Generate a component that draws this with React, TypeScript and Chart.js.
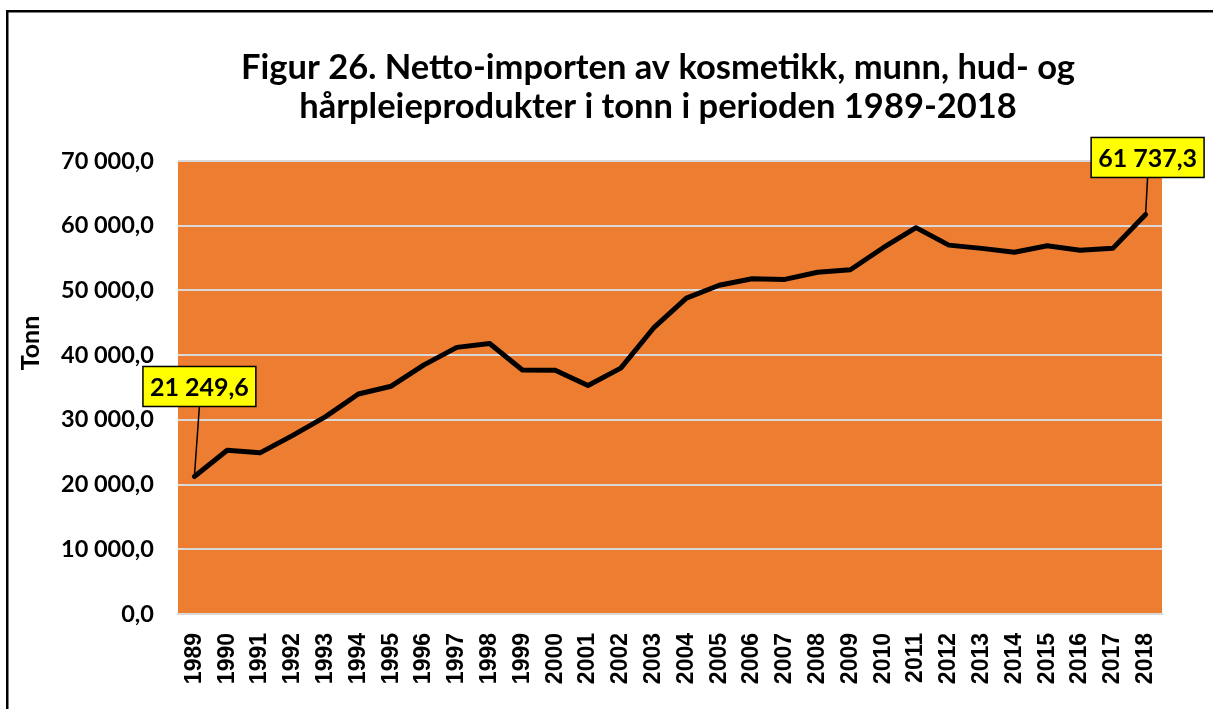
import React, { useEffect, useRef } from "react";
import { Chart, registerables } from "chart.js";

Chart.register(...registerables);

const years: string[] = [
  "1989", "1990", "1991", "1992", "1993", "1994", "1995", "1996", "1997", "1998",
  "1999", "2000", "2001", "2002", "2003", "2004", "2005", "2006", "2007", "2008",
  "2009", "2010", "2011", "2012", "2013", "2014", "2015", "2016", "2017", "2018",
];

const tonnes: number[] = [
  21249.6, 25300, 24900, 27600, 30500, 34000, 35200, 38500, 41200, 41800,
  37700, 37650, 35300, 38000, 44200, 48800, 50800, 51800, 51700, 52800,
  53200, 56600, 59700, 57000, 56500, 55900, 56900, 56200, 56500, 61737.3,
];

const titleLines: string[] = [
  "Figur 26. Netto-importen av kosmetikk, munn, hud- og",
  "hårpleieprodukter i tonn i perioden 1989-2018",
];
const yAxisTitle = "Tonn";
const labelledIndices: number[] = [0, 29];

function fmtNo(v: number): string {
  const fixed = Math.abs(v).toFixed(1);
  const [intPart, dec] = fixed.split(".");
  const grouped = intPart.replace(/\B(?=(\d{3})+(?!\d))/g, " ");
  return (v < 0 ? "-" : "") + grouped + "," + dec;
}

const FONT = "Lato, 'Open Sans', sans-serif";

export default function App() {
  const ref = useRef<HTMLCanvasElement | null>(null);

  useEffect(() => {
    if (!ref.current) return;

    const decor = {
      id: "decor",
      beforeDraw(chart: any) {
        const { ctx, chartArea } = chart;
        ctx.save();
        ctx.fillStyle = "#ffffff";
        ctx.fillRect(0, 0, chart.width, chart.height);
        ctx.fillStyle = "#ED7D31";
        ctx.fillRect(chartArea.left, chartArea.top, chartArea.right - chartArea.left, chartArea.bottom - chartArea.top);
        ctx.restore();
      },
      afterDraw(chart: any) {
        const { ctx } = chart;
        ctx.save();
        ctx.strokeStyle = "#000";
        ctx.lineWidth = 2.5;
        ctx.strokeRect(7.25, 11.25, chart.width + 20, chart.height + 20);
        ctx.fillStyle = "#000";
        ctx.font = `bold 34.5px ${FONT}`;
        ctx.textAlign = "center";
        ctx.textBaseline = "middle";
        ctx.fillText(titleLines[0], 658, 68);
        ctx.fillText(titleLines[1], 658, 107);
        ctx.translate(31, 343);
        ctx.rotate(-Math.PI / 2);
        ctx.font = `bold 25px ${FONT}`;
        ctx.fillText(yAxisTitle, 0, 0);
        ctx.restore();
      },
      afterDatasetsDraw(chart: any) {
        const { ctx } = chart;
        const meta = chart.getDatasetMeta(0);
        const offsets: Record<number, { dx: number; dy: number }> = {
          0: { dx: 5, dy: -70 },
          29: { dx: 2, dy: -37 },
        };
        ctx.save();
        labelledIndices.forEach((i) => {
          const pt = meta.data[i];
          const off = offsets[i];
          const text = fmtNo(tonnes[i]);
          ctx.font = `bold 25px ${FONT}`;
          const w = ctx.measureText(text).width + 14;
          const h = 40;
          const cx = pt.x + off.dx;
          const bottom = pt.y + off.dy;
          ctx.strokeStyle = "#000";
          ctx.lineWidth = 1.5;
          ctx.beginPath();
          ctx.moveTo(cx, bottom);
          ctx.lineTo(pt.x, pt.y);
          ctx.stroke();
          ctx.fillStyle = "#FFFF00";
          ctx.fillRect(cx - w / 2, bottom - h, w, h);
          ctx.lineWidth = 1.5;
          ctx.strokeRect(cx - w / 2, bottom - h, w, h);
          ctx.fillStyle = "#000";
          ctx.textAlign = "center";
          ctx.textBaseline = "middle";
          ctx.fillText(text, cx, bottom - h / 2 + 1);
        });
        ctx.restore();
      },
    };

    const chart = new Chart(ref.current, {
      type: "line",
      data: {
        labels: years,
        datasets: [
          {
            data: tonnes,
            borderColor: "#000000",
            borderWidth: 5,
            pointRadius: 0,
            tension: 0,
            borderJoinStyle: "round",
            borderCapStyle: "round",
            fill: false,
          },
        ],
      },
      options: {
        animation: false,
        responsive: false,
        maintainAspectRatio: false,
        layout: { padding: { left: 0, top: 161, right: 51, bottom: 0 } },
        plugins: { legend: { display: false }, tooltip: { enabled: false }, title: { display: false } },
        scales: {
          x: {
            offset: true,
            grid: { display: false, drawTicks: false },
            border: { display: true, color: "#D9D9D9", width: 2 },
            ticks: {
              maxRotation: 90,
              minRotation: 90,
              autoSkip: false,
              padding: 19,
              color: "#000",
              font: { family: "'Liberation Sans', Arial, sans-serif", weight: "bold", size: 23 },
            },
            afterFit(scale: any) {
              scale.height = 95;
            },
          },
          y: {
            min: 0,
            max: 70000,
            grid: { color: "#D9D9D9", lineWidth: 2, drawTicks: false },
            border: { display: false },
            ticks: {
              stepSize: 10000,
              padding: 24,
              color: "#000",
              font: { family: FONT, weight: "bold", size: 23.5 },
              callback: (v: any) => fmtNo(Number(v)),
            },
            afterFit(scale: any) {
              scale.width = 178;
            },
          },
        },
      },
      plugins: [decor],
    } as any);

    return () => chart.destroy();
  }, []);

  return (
    <div style={{ position: "fixed", left: 0, top: 0, width: 1213, height: 709 }}>
      <canvas ref={ref} width={1213} height={709} style={{ width: 1213, height: 709, display: "block" }} />
    </div>
  );
}
